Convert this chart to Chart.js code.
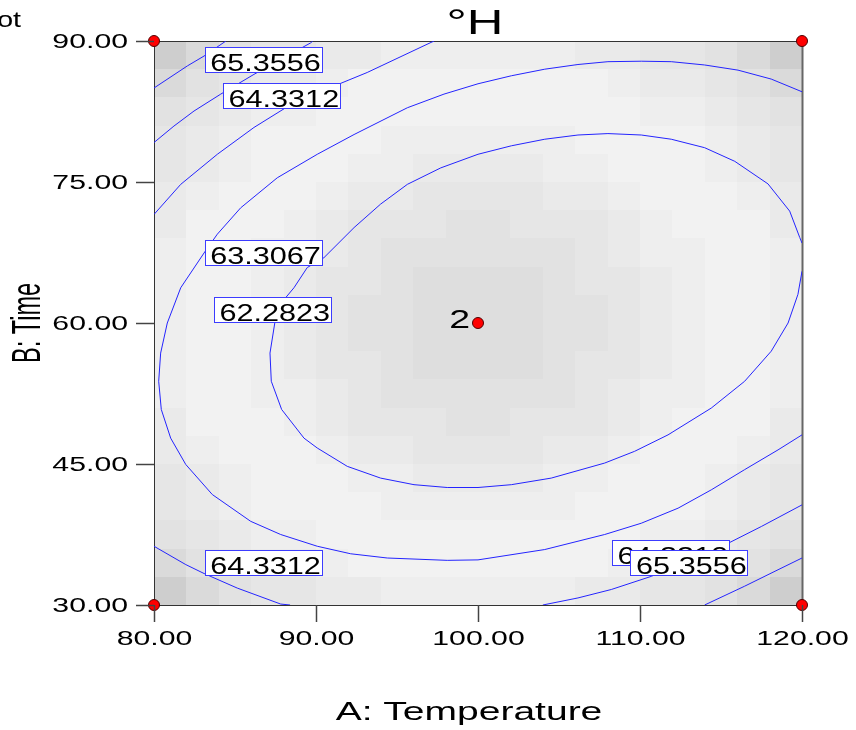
<!DOCTYPE html>
<html lang="en">
<head>
<meta charset="UTF-8">
<title>°H contour</title>
<style>
  html, body { margin: 0; padding: 0; background: #fff; }
  #wrap { width: 856px; height: 730px; position: relative; }
</style>
</head>
<body>
<div id="wrap"><canvas id="contourChart"></canvas></div>
<script src="https://cdn.jsdelivr.net/npm/chart.js"></script>
<script>
// axes
const xMin = 80, xMax = 120, yMin = 30, yMax = 90;
const xTicks = [80, 90, 100, 110, 120];
const yTicks = [30, 45, 60, 75, 90];
const xTitle = 'A: Temperature';
const yTitle = 'B: Time';
const chartTitle = '°H';

// contour lines, [A, B] pairs
const contour62 = [[120,68.5],[119.86,69.1],[119.24,71.9],[117.9,74.8],[115.85,77.2],[113.99,78.65],[111.93,79.55],
  [110.08,80.0],[108.02,80.15],[106.17,80.0],[104.12,79.55],[102.06,78.85],[100,77.95],[97.7,76.5],[95.64,74.75],
  [93.99,72.65],[92.35,70.15],[90.49,66.95],[89.46,65.9],[88.64,63.75],[88.13,62.7],[87.47,60.15],[87.16,56.8],
  [87.24,53.8],[87.88,50.8],[89.26,47.75],[90.08,46.7],[91.93,44.75],[93.99,43.5],[96.05,42.8],[98.1,42.5],
  [100,42.5],[102.06,42.8],[104.52,43.5],[107.82,45.1],[109.67,46.35],[111.73,48.1],[114.4,50.95],[116.46,53.8],
  [118.1,57.0],[119.14,60.0],[119.75,63.05],[120,65.5]];
const contour63 = [[120,84.6],[118.1,85.95],[116.05,86.9],[113.99,87.45],[111.93,87.8],[110.08,87.85],[108.02,87.8],
  [106.17,87.5],[104.12,87.0],[102.06,86.3],[100,85.45],[97.9,84.35],[95.64,82.9],[92.35,80.05],[90.08,77.95],
  [87.61,75.45],[85.35,72.25],[83.91,69.45],[83.09,67.45],[81.65,63.75],[80.82,60.0],[80.41,56.8],[80.29,53.8],
  [80.45,50.8],[81.03,47.75],[81.96,44.95],[83.6,41.75],[85.97,38.9],[87.82,37.5],[90.08,36.25],[92.14,35.45],
  [94.4,35.0],[98.1,34.75],[100,34.8],[104.12,35.9],[107.82,37.5],[110.08,38.7],[112.35,40.3],[114.4,42.25],
  [116.46,44.4],[118.52,46.5],[120,48.1]];
const contour64a = [[80,71.55],[81.65,74.75],[83.91,77.95],[86.17,80.8],[88.13,82.9],[91.46,85.45],[93.16,86.65],[97.1,89.85],[97.3,90]];
const contour64b = [[80,36.25],[81.96,34.3],[83.09,33.35],[85.14,31.8],[87.82,30.1],[88.4,30]];
const contour64c = [[104.0,30],[106.17,30.75],[108.23,31.65],[110.7,33.05],[113.09,34.8],[115.48,36.6],[117.49,38.35],[120,40.65]];
const contour65a = [[80,79.2],[81.23,80.95],[82.47,82.55],[84.12,84.35],[86.17,86.45],[89.67,89.8],[89.8,90]];
const contour65b = [[113.99,30],[116.46,32.0],[118.52,33.75],[120,35.0]];
const contour66 = [[80,85.0],[82.06,87.35],[83.09,88.4],[84.44,90]];
const contourLines = [contour62, contour63, contour64a, contour64b, contour64c, contour65a, contour65b, contour66];

// contour labels
const labelText = ['65.3556', '64.3312', '63.3067', '62.2823', '64.3312', '64.3312', '65.3556'];
const labelX = [86.73, 87.86, 86.73, 87.30, 86.73, 111.87, 113.02];
const labelY = [88.0, 84.23, 67.48, 61.47, 34.47, 35.55, 34.47];

// design points
const designX = [80, 120, 80, 120, 100];
const designY = [90, 90, 30, 30, 60];
const designTag = ['', '', '', '', '2'];

// background shading, one digit per cell (rows from B=90 down to B=30)
const shadeRows = [
  '03566778888887766530',
  '35677899999999877653',
  '56788999999999988765',
  '67899998888889999876',
  '67899988777788999876',
  '78999877666677899987',
  '79998766655666789997',
  '89988765555556788998',
  '89987665444456678998',
  '89987655444455678998',
  '89987655444455678998',
  '89987665444456678998',
  '89988765555556788998',
  '79998766655666789997',
  '78999877666677899987',
  '67899988777788999876',
  '67899998888889999876',
  '56788999999999988765',
  '35677899999999877653',
  '03566778888887766530'
];

const FONT = '"Liberation Sans", Arial, sans-serif';

function wideText(ctx, text, x, y, size, sx, align, baseline, rot) {
  ctx.save();
  ctx.translate(x, y);
  ctx.scale(sx, 1);
  if (rot) ctx.rotate(rot);
  ctx.font = size + 'px ' + FONT;
  ctx.textAlign = align;
  ctx.textBaseline = baseline;
  ctx.fillStyle = '#000';
  ctx.fillText(text, 0, 0);
  ctx.restore();
}

const shadePlugin = {
  id: 'shade',
  beforeDatasetsDraw(chart) {
    const { ctx, chartArea: a, scales: { x, y } } = chart;
    const nRows = shadeRows.length, nCols = shadeRows[0].length;
    const dx = (xMax - xMin) / nCols, dy = (yMax - yMin) / nRows;
    ctx.save();
    shadeRows.forEach((row, r) => {
      for (let c = 0; c < nCols; c++) {
        const g = 206 + 4 * Number(row[c]);
        const x0 = Math.round(x.getPixelForValue(xMin + c * dx));
        const x1 = Math.round(x.getPixelForValue(xMin + (c + 1) * dx));
        const y0 = Math.round(y.getPixelForValue(yMax - r * dy));
        const y1 = Math.round(y.getPixelForValue(yMax - (r + 1) * dy));
        ctx.fillStyle = 'rgb(' + g + ',' + g + ',' + g + ')';
        ctx.fillRect(x0, y0, x1 - x0, y1 - y0);
      }
    });
    // frame
    ctx.strokeStyle = '#333';
    ctx.lineWidth = 1;
    ctx.strokeRect(a.left + 0.5, a.top + 0.5, a.right - a.left, a.bottom - a.top);
    ctx.strokeStyle = '#666';
    ctx.lineWidth = 2;
    ctx.beginPath();
    ctx.moveTo(a.right + 0.5, a.top);
    ctx.lineTo(a.right + 0.5, a.bottom);
    ctx.stroke();
    ctx.restore();
  }
};

const textPlugin = {
  id: 'texts',
  afterDatasetsDraw(chart) {
    const { ctx, scales: { x, y } } = chart;
    ctx.save();
    // contour labels
    labelText.forEach((t, i) => {
      const cx = x.getPixelForValue(labelX[i]);
      const cy = y.getPixelForValue(labelY[i]);
      const w = 117, h = 25;
      const bx = Math.round(cx - w / 2) + 0.5, by = Math.round(cy - h / 2) + 0.5;
      ctx.fillStyle = '#fff';
      ctx.fillRect(bx, by, w, h);
      ctx.strokeStyle = '#3c3cff';
      ctx.lineWidth = 1;
      ctx.strokeRect(bx, by, w, h);
      wideText(ctx, t, cx + 2.5, by + 23, 24.5, 1.25, 'center', 'alphabetic');
    });
    // design point tags
    designTag.forEach((t, i) => {
      if (!t) return;
      const px = x.getPixelForValue(designX[i]);
      const py = y.getPixelForValue(designY[i]);
      wideText(ctx, t, px - 8, py + 5, 25, 1.5, 'right', 'alphabetic');
    });
    ctx.restore();
  },
  afterDraw(chart) {
    const { ctx, chartArea: a, scales: { x, y } } = chart;
    ctx.save();
    ctx.strokeStyle = '#444';
    ctx.lineWidth = 1.5;
    yTicks.forEach(v => {
      const py = Math.round(y.getPixelForValue(v)) + 0.5;
      ctx.beginPath();
      ctx.moveTo(a.left - 18, py);
      ctx.lineTo(a.left, py);
      ctx.stroke();
      wideText(ctx, v.toFixed(2), a.left - 26, py + 1, 19.5, 1.55, 'right', 'middle');
    });
    xTicks.forEach(v => {
      const px = Math.round(x.getPixelForValue(v)) + 0.5;
      ctx.beginPath();
      ctx.moveTo(px, a.bottom);
      ctx.lineTo(px, a.bottom + 17);
      ctx.stroke();
      wideText(ctx, v.toFixed(2), px, a.bottom + 35, 19.5, 1.55, 'center', 'middle');
    });
    // titles
    wideText(ctx, xTitle, (a.left + a.right) / 2 - 9, 713, 26, 1.5, 'center', 'middle');
    wideText(ctx, yTitle, 29, (a.top + a.bottom) / 2, 23.5, 1.72, 'center', 'middle', -Math.PI / 2);
    wideText(ctx, chartTitle, (a.left + a.right) / 2 - 3, 34, 35, 1.45, 'center', 'alphabetic');
    wideText(ctx, 'Plot', 21, 27, 22, 1.3, 'right', 'alphabetic');
    ctx.restore();
  }
};

const datasets = [{
  label: 'Design points',
  data: designX.map((v, i) => ({ x: v, y: designY[i] })),
  showLine: false,
  pointRadius: 5.5,
  pointBackgroundColor: '#ff0000',
  pointBorderColor: '#500000',
  pointBorderWidth: 1,
  clip: false
}];
contourLines.forEach(line => {
  datasets.push({
    data: line.map(p => ({ x: p[0], y: p[1] })),
    showLine: true,
    pointRadius: 0,
    borderColor: '#2424ff',
    borderWidth: 1,
    tension: 0,
    fill: false
  });
});

new Chart(document.getElementById('contourChart'), {
  type: 'scatter',
  data: { datasets: datasets },
  options: {
    responsive: true,
    maintainAspectRatio: false,
    animation: false,
    events: [],
    layout: { padding: { left: 154, top: 41, right: 54, bottom: 125 } },
    scales: {
      x: { type: 'linear', min: xMin, max: xMax, display: false },
      y: { type: 'linear', min: yMin, max: yMax, display: false }
    },
    plugins: { legend: { display: false }, tooltip: { enabled: false } }
  },
  plugins: [shadePlugin, textPlugin]
});
</script>
</body>
</html>
